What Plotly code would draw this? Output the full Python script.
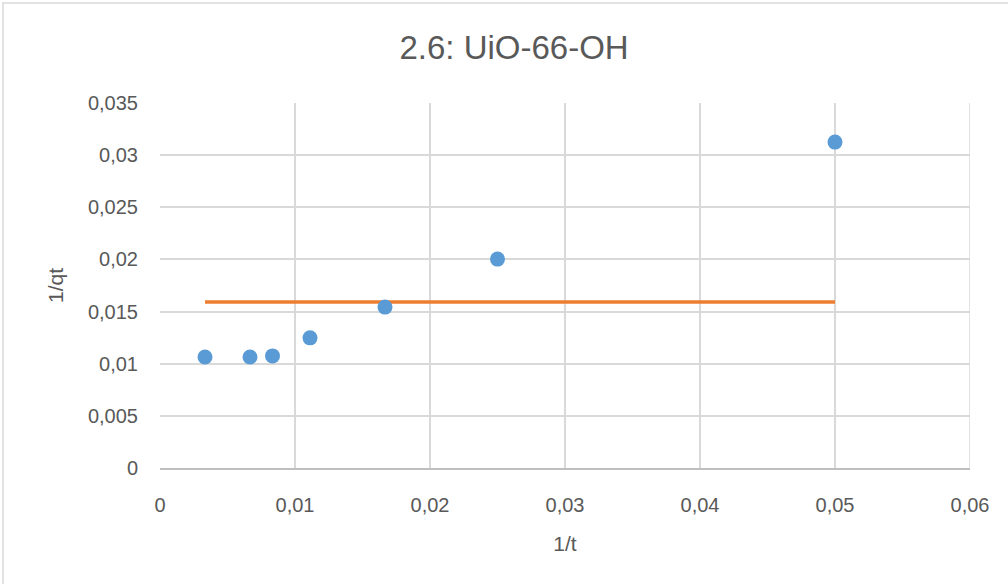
import plotly.graph_objects as go

inv_t = [1/300, 1/150, 1/120, 1/90, 1/60, 1/40, 1/20]
inv_qt = [0.01065, 0.01065, 0.01075, 0.01248, 0.01543, 0.02003, 0.03125]
line_x = [1/300, 1/20]
line_y = [0.01592, 0.01592]

FONT = "Liberation Sans, Arial, sans-serif"
TXT = "#595959"

fig = go.Figure()
fig.add_trace(go.Scatter(x=line_x, y=line_y, mode="lines",
                         line=dict(color="#ED7D31", width=3.5), showlegend=False))
fig.add_trace(go.Scatter(x=inv_t, y=inv_qt, mode="markers",
                         marker=dict(color="#5B9BD5", size=15), showlegend=False))

fig.update_layout(
    width=1008, height=584,
    margin=dict(l=160, r=38, t=103, b=116),
    paper_bgcolor="white", plot_bgcolor="white",
    separators=",.",
    font=dict(family=FONT, color=TXT, size=20),
    title=dict(text="2.6: UiO-66-OH", x=0.51, xanchor="center", y=0.919, yanchor="middle",
               font=dict(size=33, color=TXT, family=FONT)),
    xaxis=dict(range=[0, 0.06], dtick=0.01, tick0=0, showgrid=True, gridcolor="#d9d9d9",
               gridwidth=1.5, zeroline=False, showline=True, linecolor="#bfbfbf", linewidth=1.5,
               ticks="", ticklabelstandoff=18,
               title=dict(text="1/t", font=dict(size=21, color=TXT), standoff=22),
               tickfont=dict(size=20, color=TXT)),
    yaxis=dict(range=[0, 0.035], dtick=0.005, tick0=0, showgrid=True, gridcolor="#d9d9d9",
               gridwidth=1.5, zeroline=False, showline=False, ticks="", ticklabelstandoff=21,
               title=dict(text="1/qt", font=dict(size=21, color=TXT), standoff=18),
               tickfont=dict(size=20, color=TXT)),
    shapes=[
        dict(type="line", xref="x", yref="paper", x0=0.06, x1=0.06, y0=0, y1=1,
             line=dict(color="#d9d9d9", width=1.5), layer="below"),
        dict(type="rect", xref="paper", yref="paper",
             x0=-157/810, x1=1+60/810, y0=-140/365, y1=1+100/365,
             line=dict(color="#d9d9d9", width=1.5), fillcolor="rgba(0,0,0,0)"),
    ],
)

fig.write_html("out.html")
